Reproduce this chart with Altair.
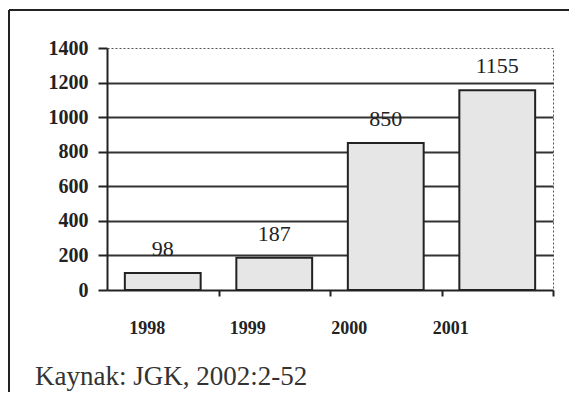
import altair as alt
import pandas as pd

years = ["1998", "1999", "2000", "2001"]
values = [98, 187, 850, 1155]
y_ticks = [0, 200, 400, 600, 800, 1000, 1200, 1400]
caption = "Kaynak: JGK, 2002:2-52"

df = pd.DataFrame({"year": years, "value": values})

W, H = 446, 242
SERIF = "Liberation Serif"

x_enc = alt.X(
    "year:N",
    sort=years,
    scale=alt.Scale(paddingInner=0.32, paddingOuter=0.16),
    axis=alt.Axis(
        title=None,
        labelAngle=0,
        tickOffset=56,
        tickSize=6,
        tickWidth=2,
        tickColor="#222",
        domainColor="#222",
        domainWidth=2,
        labelFont=SERIF,
        labelFontWeight="bold",
        labelFontSize=18,
        labelColor="#222",
        labelPadding=23,
        labelOverlap=False,
        labelOffset={
            "condition": [
                {"test": "datum.value == '1999'", "value": -83},
                {"test": "datum.value == '2000'", "value": -93},
                {"test": "datum.value == '2001'", "value": -103},
            ],
            "value": -72,
        },
    ),
)

y_enc = alt.Y(
    "value:Q",
    scale=alt.Scale(domain=[0, 1400], nice=False),
    axis=alt.Axis(
        title=None,
        values=y_ticks,
        format="d",
        grid=True,
        gridColor="#333",
        gridWidth=2,
        gridOpacity={
            "condition": {"test": "datum.value == 1400 || datum.value == 0", "value": 0},
            "value": 1,
        },
        tickSize=9,
        tickWidth=2,
        tickColor="#222",
        domainColor="#222",
        domainWidth=2,
        labelFont=SERIF,
        labelFontWeight="bold",
        labelFontSize=20,
        labelColor="#222",
        labelPadding=10,
        labelOverlap=False,
    ),
)

bars = alt.Chart(df).mark_bar(
    fill="#e6e6e6", stroke="#222", strokeWidth=2
).encode(x=x_enc, y=y_enc)

labels = alt.Chart(df).mark_text(
    font=SERIF, fontSize=22, color="#222", baseline="middle", dy=-24
).encode(x=x_enc, y=y_enc, text="value:Q")

cap = alt.Chart(pd.DataFrame({"t": [caption]})).mark_text(
    font=SERIF, fontSize=27, color="#333", align="left", baseline="alphabetic"
).encode(x=alt.value(-72), y=alt.value(337), text="t:N")

frame_left = alt.Chart(pd.DataFrame({"a": [0]})).mark_rule(
    color="#222", strokeWidth=2
).encode(x=alt.value(-98), y=alt.value(-38), y2=alt.value(344))
frame_top = alt.Chart(pd.DataFrame({"a": [0]})).mark_rule(
    color="#222", strokeWidth=2
).encode(x=alt.value(-98), x2=alt.value(470), y=alt.value(-38))

chart = alt.layer(bars, labels, cap, frame_left, frame_top).properties(
    width=W,
    height=H,
    autosize=alt.AutoSizeParams(type="none"),
    padding={"left": 99, "top": 40, "right": 16, "bottom": 102},
    background="white",
).configure_view(
    stroke="#555", strokeDash=[2, 2], strokeWidth=1
).configure_text(font=SERIF)

chart.save("out.html", embed_options={"renderer": "svg", "actions": False})
